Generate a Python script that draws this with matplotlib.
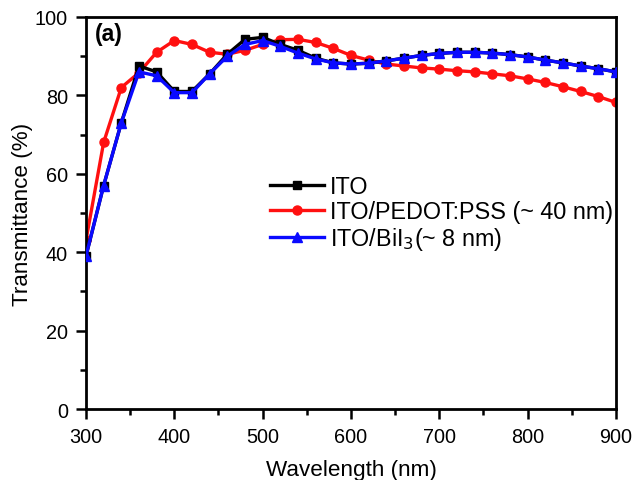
import matplotlib
matplotlib.use("Agg")
import matplotlib.pyplot as plt
from matplotlib.ticker import MultipleLocator

plt.rcParams['font.family'] = ['Liberation Sans', 'DejaVu Sans']

wavelength = list(range(300, 901, 20))

ito = [39, 57, 73, 87.5, 86, 81, 81, 85.5, 90.5, 94.3, 94.8, 93, 91.5, 89.5, 88.3, 88,
       88.2, 88.8, 89.5, 90.2, 90.7, 91, 91, 90.8, 90.4, 89.8, 89, 88.3, 87.5, 86.8, 86]
pedot = [43, 68, 82, 85.8, 91, 94, 93, 91, 90.5, 91.5, 93, 94.2, 94.3, 93.5, 92, 90.2,
         89, 88, 87.5, 87, 86.7, 86.3, 86, 85.5, 85, 84.2, 83.3, 82.2, 81, 79.7, 78.2]
bii3 = [39, 57, 73, 86, 85, 80.7, 80.7, 85.5, 90, 93, 94, 92.5, 90.8, 89.3, 88.3, 88,
        88.2, 88.8, 89.5, 90.2, 90.7, 91, 91, 90.8, 90.4, 89.8, 89, 88.3, 87.5, 86.8, 86]

fig = plt.figure(figsize=(6.35, 4.81), dpi=100)
ax = fig.add_axes([0.1354, 0.1476, 0.8346, 0.815])

ax.plot(wavelength, ito, color='black', lw=2.4, marker='s', ms=5.5,
        label='ITO', zorder=3)
ax.plot(wavelength, pedot, color='#ff1010', lw=2.4, marker='o', ms=6.5,
        label='ITO/PEDOT:PSS (~ 40 nm)', zorder=2)
ax.plot(wavelength, bii3, color='#0a0aff', lw=2.4, marker='^', ms=6.5,
        label='ITO/BiI$_3$(~ 8 nm)', zorder=4)

ax.set_xlim(300, 900)
ax.set_ylim(0, 100)
ax.xaxis.set_major_locator(MultipleLocator(100))
ax.xaxis.set_minor_locator(MultipleLocator(50))
ax.yaxis.set_major_locator(MultipleLocator(20))
ax.yaxis.set_minor_locator(MultipleLocator(10))
ax.tick_params(which='both', direction='out', width=1.8, top=False, right=False,
               labelsize=14.3, pad=6)
ax.tick_params(which='major', length=7)
ax.tick_params(which='minor', length=4.5)
for s in ax.spines.values():
    s.set_linewidth(2)

ax.set_xlabel('Wavelength (nm)', fontsize=16.2, labelpad=9)
ax.set_ylabel('Transmittance (%)', fontsize=16.2, labelpad=1.5)

ax.text(0.016, 0.988, '(a)', transform=ax.transAxes, fontsize=16.5,
        fontweight='bold', va='top', ha='left')

leg = ax.legend(loc='upper left', bbox_to_anchor=(0.348, 0.596), frameon=False,
                fontsize=16.8, handlelength=2.3, handletextpad=0.25,
                labelspacing=0.08, borderaxespad=0, borderpad=0)

fig.savefig('out.png', dpi=100)
